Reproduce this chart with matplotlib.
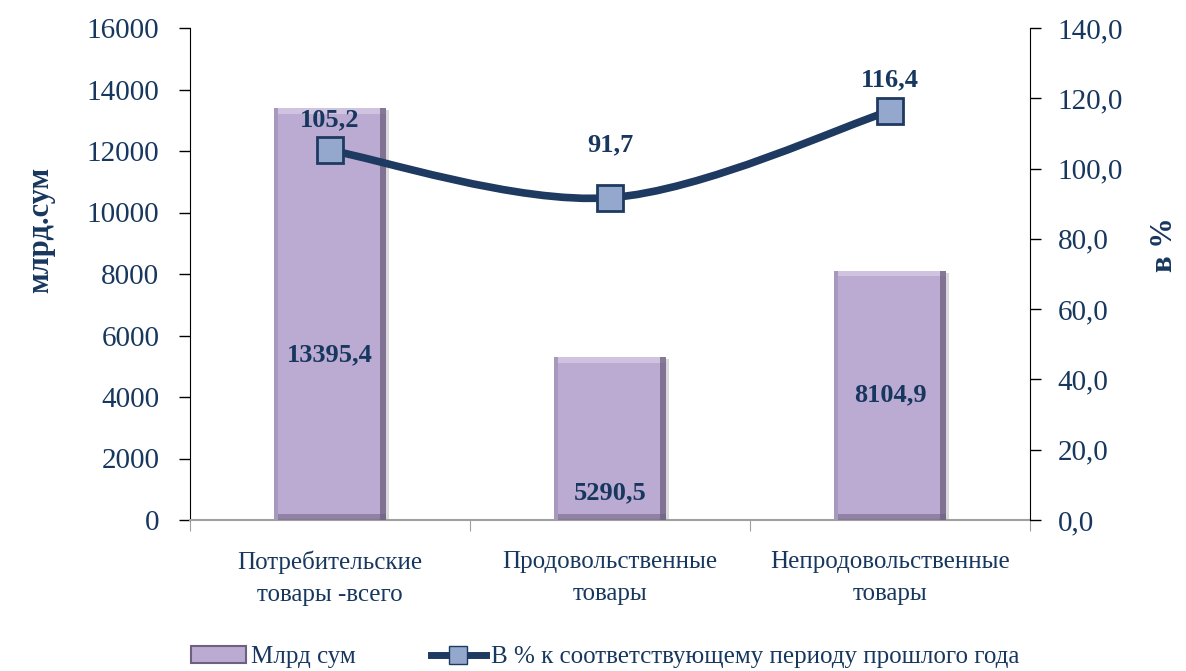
import matplotlib
matplotlib.use('Agg')
import matplotlib.pyplot as plt
from matplotlib.path import Path
from matplotlib.patches import PathPatch, Rectangle
from matplotlib.lines import Line2D
import numpy as np

plt.rcParams['font.family'] = ['Liberation Serif', 'DejaVu Serif']

categories = ['Потребительские\nтовары -всего', 'Продовольственные\nтовары', 'Непродовольственные\nтовары']
values_sum = [13395.4, 5290.5, 8104.9]
values_pct = [105.2, 91.7, 116.4]
sum_labels = ['13395,4', '5290,5', '8104,9']
pct_labels = ['105,2', '91,7', '116,4']
left_ticks = [0, 2000, 4000, 6000, 8000, 10000, 12000, 14000, 16000]
right_ticks = [0, 20, 40, 60, 80, 100, 120, 140]

navy = '#17375E'
line_col = '#1F3A60'
bar_face = '#BBAAD2'
bar_dark = '#6E6080'
bar_light = '#CFC3E0'

# label heights inside bars (data units of left axis)
sum_label_y = [5370, 900, 4060]
# vertical offsets of percent labels (points)
pct_offset = [14, 30, 14]


def smooth_path(xs, ys, tension=0.5):
    # Catmull-Rom style cubic bezier through the given points
    xs = np.asarray(xs, float)
    ys = np.asarray(ys, float)
    n = len(xs)
    verts = [(xs[0], ys[0])]
    codes = [Path.MOVETO]
    for i in range(n - 1):
        p0 = (xs[max(i - 1, 0)], ys[max(i - 1, 0)])
        p1 = (xs[i], ys[i])
        p2 = (xs[i + 1], ys[i + 1])
        p3 = (xs[min(i + 2, n - 1)], ys[min(i + 2, n - 1)])
        c1 = (p1[0] + (p2[0] - p0[0]) * tension / 3, p1[1] + (p2[1] - p0[1]) * tension / 3)
        c2 = (p2[0] - (p3[0] - p1[0]) * tension / 3, p2[1] - (p3[1] - p1[1]) * tension / 3)
        verts += [c1, c2, p2]
        codes += [Path.CURVE4] * 3
    return Path(verts, codes)


fig = plt.figure(figsize=(11.86, 6.71), dpi=100)
ax1 = fig.add_axes([190 / 1186, 1 - 520 / 671, 840 / 1186, 492 / 671])
ax2 = ax1.twinx()

x = np.arange(len(categories))
w = 0.40
for xi, v in zip(x, values_sum):
    # shadow
    ax1.add_patch(Rectangle((xi - w / 2 + 0.012, -60), w, v, facecolor='#DADADA', edgecolor='none', zorder=1))
    ax1.add_patch(Rectangle((xi - w / 2, 0), w, v, facecolor=bar_face, edgecolor='none', zorder=2))
    # bevel edges
    bw = 0.022
    bh = 180
    ax1.add_patch(Rectangle((xi - w / 2, v - bh), w, bh, facecolor=bar_light, edgecolor='none', zorder=3))
    ax1.add_patch(Rectangle((xi + w / 2 - bw, 0), bw, v, facecolor=bar_dark, edgecolor='none', zorder=3, alpha=0.75))
    ax1.add_patch(Rectangle((xi - w / 2, 0), w, bh, facecolor=bar_dark, edgecolor='none', zorder=3, alpha=0.55))
    ax1.add_patch(Rectangle((xi - w / 2, 0), bw * 0.6, v, facecolor='#A898BE', edgecolor='none', zorder=3))

for xi, ly, s in zip(x, sum_label_y, sum_labels):
    ax1.text(xi, ly, s, ha='center', va='center', fontsize=19, fontweight='bold', color=navy, zorder=5)

ax1.set_xlim(-0.5, 2.5)
ax1.set_ylim(0, 16000)
ax1.set_yticks(left_ticks)
ax1.set_yticklabels([str(t) for t in left_ticks], fontsize=21, color=navy)
ax1.set_xticks([-0.5, 0.5, 1.5, 2.5])
ax1.set_xticklabels([])
ax1.set_xticks(x, minor=True)
ax1.set_xticklabels(categories, minor=True, fontsize=18, color=navy, linespacing=1.6)
ax1.tick_params(axis='x', which='minor', length=0, pad=22)
ax1.tick_params(axis='x', which='major', length=8, color='#A0A0A0', direction='out')
ax1.tick_params(axis='y', length=8, width=1, pad=14)
ax1.set_ylabel('млрд.сум', fontsize=22, fontweight='bold', color=navy)
ax1.yaxis.set_label_coords((55 - 190) / 840, (520 - 230) / 492)

for sp in ['top', 'right']:
    ax1.spines[sp].set_visible(False)
ax1.spines['bottom'].set_color('#A0A0A0')
ax1.spines['bottom'].set_linewidth(1.5)
ax1.spines['left'].set_color('black')

ax2.set_ylim(0, 140)
ax2.set_yticks(right_ticks)
ax2.set_yticklabels([f'{t},0' for t in right_ticks], fontsize=21, color=navy)
ax2.tick_params(axis='y', length=8, width=1, pad=12)
for sp in ['top', 'left', 'bottom']:
    ax2.spines[sp].set_visible(False)
ax2.spines['right'].set_color('black')
ax2.set_ylabel('в %', fontsize=22, fontweight='bold', color=navy, rotation=90)
ax2.yaxis.set_label_coords((1150 - 190) / 840, (520 - 245) / 492)

ax2.add_patch(PathPatch(smooth_path(x, values_pct), facecolor='none', edgecolor=line_col, lw=5.5,
                        capstyle='round', zorder=4))
ax2.plot(x, values_pct, linestyle='none', marker='s', markersize=19, markerfacecolor='#94A8CE',
         markeredgecolor=line_col, markeredgewidth=2, zorder=5)
for xi, v, s, off in zip(x, values_pct, pct_labels, pct_offset):
    ax2.annotate(s, (xi, v), xytext=(0, off), textcoords='offset points', ha='center', va='bottom',
                 fontsize=19, fontweight='bold', color=navy, zorder=6)

handles = [Rectangle((0, 0), 1, 1, facecolor=bar_face, edgecolor=bar_dark, lw=1.5),
           Line2D([0], [0], color=line_col, lw=5, marker='s', markersize=13,
                  markerfacecolor='#94A8CE', markeredgecolor=line_col)]
fig.legend(handles, ['Млрд сум', 'В % к соответствующему периоду прошлого года'],
           loc='center', bbox_to_anchor=(605 / 1186, 1 - 657 / 671), ncol=2, frameon=False,
           fontsize=18, labelcolor=navy, handlelength=2.2, handletextpad=0.2, columnspacing=3)

fig.savefig('out.png', dpi=100)
